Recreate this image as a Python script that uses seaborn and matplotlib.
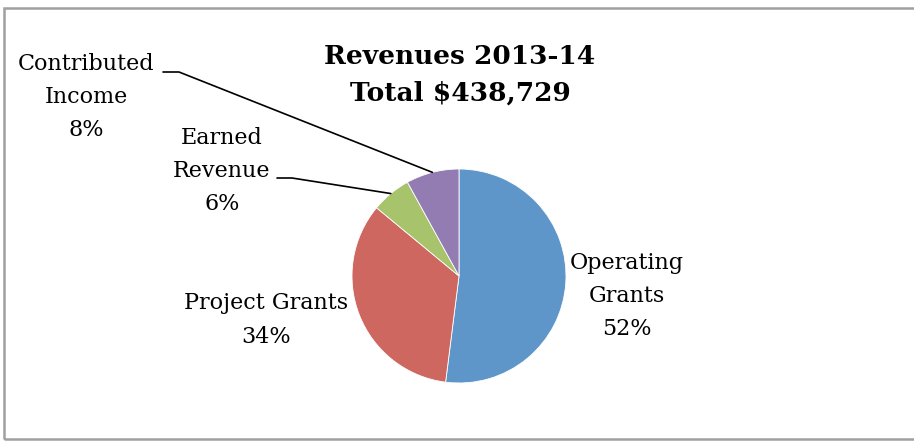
import numpy as np
import seaborn as sns
from matplotlib import pyplot as plt
from matplotlib.patches import Rectangle

# Data
labels = ['Operating\nGrants', 'Project Grants', 'Earned\nRevenue', 'Contributed\nIncome']
shares = [52, 34, 6, 8]
colors = ['#5F96C9', '#CD675F', '#A7C36C', '#927CB2']
title = 'Revenues 2013-14\nTotal $438,729'

sns.set_theme(style='white')
plt.rcParams['font.family'] = ['DejaVu Serif']

W, H = 914, 441
fig = plt.figure(figsize=(W / 100, H / 100), dpi=100)


def fx(px):
    return px / W


def fy(py):
    return 1 - py / H


# pie axes: centre (459, 276), radius 107 px
r = 107
ax = fig.add_axes([fx(459 - r), fy(276 + r), 2 * r / W, 2 * r / H])
wedges, _ = ax.pie(shares, colors=sns.color_palette(colors), startangle=90, counterclock=False,
                   radius=1, wedgeprops=dict(edgecolor='white', linewidth=0.6))
ax.set_xlim(-1, 1)
ax.set_ylim(-1, 1)
ax.set_aspect('auto')
ax.axis('off')

# title
fig.text(fx(460), fy(75), title, ha='center', va='center', fontsize=19, fontweight='bold',
         linespacing=1.6, color='black')

# labels with percentages
pct = [f'{s}%' for s in shares]
label_pos = [(627, 296), (266, 320), (222, 171), (86, 97)]
for lab, p, (x, y) in zip(labels, pct, label_pos):
    fig.text(fx(x), fy(y), f'{lab}\n{p}', ha='center', va='center', fontsize=16,
             linespacing=1.65, color='black')

# leader lines for the small slices
to_data = ax.transData.inverted()
leaders = {2: (277, 178, 292), 3: (163, 72, 179)}
for i, (x0, y0, x1) in leaders.items():
    w = wedges[i]
    mid = np.deg2rad((w.theta1 + w.theta2) / 2)
    p_end = (np.cos(mid), np.sin(mid))
    pts = to_data.transform([(x0, H - y0), (x1, H - y0)])
    ax.plot([pts[0][0], pts[1][0], p_end[0]], [pts[0][1], pts[1][1], p_end[1]],
            color='black', lw=1.2, clip_on=False)

# chart border (right edge runs off the image)
fig.patches.append(Rectangle((fx(4), fy(438.5)), fx(930), fy(7.5) - fy(438.5), transform=fig.transFigure,
                             fill=False, edgecolor='#A0A0A0', lw=1.8))

plt.savefig('out.png', dpi=100)
